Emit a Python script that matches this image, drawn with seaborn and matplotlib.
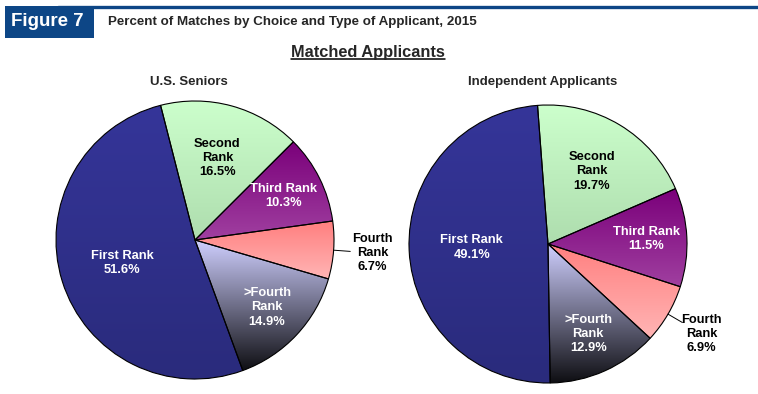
import numpy as np
import seaborn as sns
import matplotlib.pyplot as plt
import matplotlib.colors as mcolors
from matplotlib.patches import Rectangle
from matplotlib.lines import Line2D

# data
categories = ["First Rank", "Second Rank", "Third Rank", "Fourth Rank", ">Fourth Rank"]
short_labels = ["First Rank", "Second\nRank", "Third Rank", "Fourth\nRank", ">Fourth\nRank"]
seniors = [51.6, 16.5, 10.3, 6.7, 14.9]
independents = [49.1, 19.7, 11.5, 6.9, 12.9]
panel_titles = ["U.S. Seniors", "Independent Applicants"]

# styling
top_colors = ["#353599", "#CCFFCC", "#7A007A", "#FF7F7F", "#CFCFFF"]
bottom_colors = ["#2A2B7C", "#AEDDAE", "#A040A0", "#FFB5B5", "#0E0E12"]
text_colors = ["white", "black", "white", "black", "white"]
label_radius = [0.55, 0.61, 0.71, 1.28, 0.71]
NAVY = "#0D4686"

sns.set_theme(style="white")
plt.rcParams['font.family'] = ['Liberation Sans', 'DejaVu Sans']

W, H = 758, 394
fig = plt.figure(figsize=(W / 100, H / 100), dpi=100)


def fx(x):
    return x / W


def fy(y):
    return 1 - y / H


# header band
fig.add_artist(Rectangle((fx(5), fy(38)), fx(94) - fx(5), fy(6) - fy(38),
                         transform=fig.transFigure, color=NAVY, lw=0))
fig.add_artist(Line2D([fx(58), fx(758)], [fy(6.5), fy(6.5)], transform=fig.transFigure,
                      color=NAVY, lw=2.4))
fig.text(fx(47), fy(22), "Figure 7", color="white", fontsize=13.5, fontweight="bold",
         ha="center", va="center")
fig.text(fx(108), fy(22), "Percent of Matches by Choice and Type of Applicant, 2015",
         fontsize=9.6, fontweight="bold", ha="left", va="center")
sub = fig.text(fx(368), fy(52), "Matched Applicants", fontsize=11.8, fontweight="bold",
               ha="center", va="center")
renderer = fig.canvas.get_renderer()
bb = sub.get_window_extent(renderer)
fig.add_artist(Line2D([bb.x0 / W, bb.x1 / W], [fy(59), fy(59)], transform=fig.transFigure,
                      color="black", lw=1.1))


def gradient_pie(ax, values, start):
    # slices run clockwise, each filled with a top-to-bottom gradient
    wedges, _ = ax.pie(values, colors=top_colors, startangle=start, counterclock=False,
                       wedgeprops=dict(edgecolor="black", linewidth=0.8))
    for i, w in enumerate(wedges):
        ext = w.get_path().get_extents()
        c0 = np.array(mcolors.to_rgb(top_colors[i]))
        c1 = np.array(mcolors.to_rgb(bottom_colors[i]))
        t = np.linspace(0, 1, 256)[:, None]
        grad = (c0 * (1 - t) + c1 * t)[:, None, :]
        im = ax.imshow(grad, extent=[ext.x0, ext.x1, ext.y0, ext.y1], origin="upper",
                       aspect="auto", interpolation="bilinear", zorder=1)
        im.set_clip_path(w)
        w.set_facecolor("none")
        w.set_zorder(3)

        mid = np.deg2rad((w.theta1 + w.theta2) / 2)
        r = label_radius[i]
        ax.text(r * np.cos(mid), r * np.sin(mid), f"{short_labels[i]}\n{values[i]:.1f}%",
                ha="center", va="center", color=text_colors[i], fontsize=9.3,
                fontweight="bold", linespacing=1.25, zorder=4)
        if r > 1:
            ax.plot([1.0 * np.cos(mid), 1.12 * np.cos(mid)],
                    [1.0 * np.sin(mid), 1.12 * np.sin(mid)],
                    color="black", lw=0.7, zorder=4, clip_on=False)
    ax.set_xlim(-1.4, 1.4)
    ax.set_ylim(-1.4, 1.4)
    ax.set_aspect("equal")
    ax.axis("off")


def add_pie_axes(cx, cy, radius):
    side = 2 * 1.4 * radius
    ax = fig.add_axes([fx(cx - side / 2), fy(cy + side / 2), side / W, side / H])
    ax.patch.set_alpha(0)
    return ax


# U.S. Seniors
ax1 = add_pie_axes(195, 240, 139)
gradient_pie(ax1, seniors, 290.1)
# Independent Applicants
ax2 = add_pie_axes(548, 244, 139)
gradient_pie(ax2, independents, 270.9)

fig.text(fx(189), fy(82), panel_titles[0], fontsize=9.5, fontweight="bold",
         ha="center", va="center")
fig.text(fx(543), fy(82), panel_titles[1], fontsize=9.5, fontweight="bold",
         ha="center", va="center")

fig.savefig("out.png", dpi=100)
